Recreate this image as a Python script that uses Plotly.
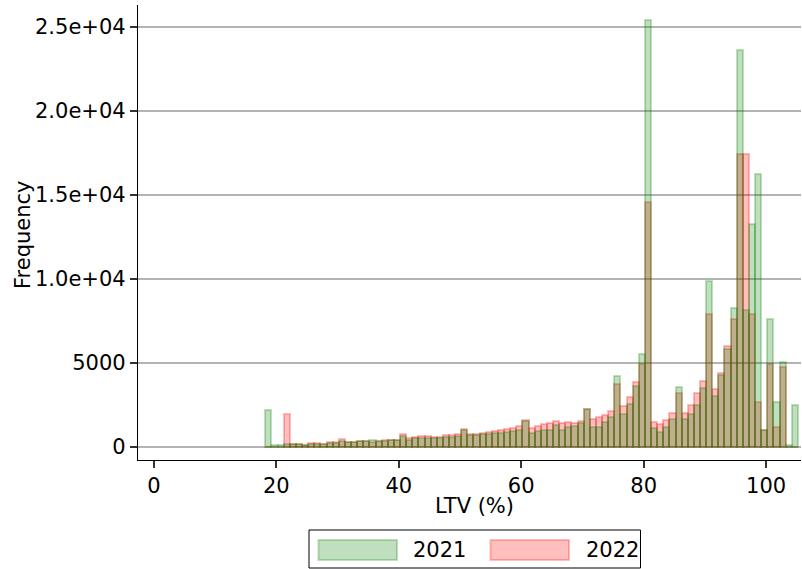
import numpy as np
import plotly.graph_objects as go

# ---- data ----
bin_start = 18.2
bin_width = 1.0

counts_2021 = [
    2220, 140, 140, 150, 170, 170, 90, 200, 200, 180,
    260, 260, 380, 310, 300, 330, 330, 400, 330, 340,
    420, 430, 680, 440, 520, 555, 555, 560, 560, 595,
    595, 655, 1020, 700, 700, 780, 760, 810, 840, 890,
    960, 1010, 1550, 860, 940, 1040, 1000, 1280, 1040, 1170,
    1240, 1400, 2280, 1220, 1220, 1510, 1760, 4200, 1940, 2580,
    3650, 5560, 25440, 1110, 910, 1190, 1640, 3570, 1670, 1940,
    2500, 3530, 9880, 3020, 4290, 5830, 8290, 23650, 8170, 13250,
    16270, 1030, 7620, 2700, 5080, 100, 2500,
]
counts_2022 = [
    0, 0, 0, 1980, 200, 200, 90, 220, 220, 180,
    280, 280, 450, 320, 300, 340, 340, 320, 340, 400,
    440, 440, 770, 510, 575, 635, 635, 615, 615, 695,
    695, 755, 1050, 800, 800, 860, 870, 950, 1000, 1090,
    1150, 1270, 1590, 1110, 1230, 1340, 1400, 1530, 1410, 1470,
    1400, 1530, 2240, 1640, 1760, 1910, 2160, 3770, 2470, 3000,
    3890, 4920, 14560, 1470, 1350, 1590, 2020, 3210, 2020, 2500,
    3210, 3930, 7900, 3450, 4400, 6030, 7620, 17460, 17460, 7900,
    2660, 1030, 4960, 1190, 4760, 0, 0,
]
series_names = ["2021", "2022"]
x_ticks = [0, 20, 40, 60, 80, 100]
y_ticks = [0, 5000, 10000, 15000, 20000, 25000]
y_ticklabels = ["0", "5000", "1.0e+04", "1.5e+04", "2.0e+04", "2.5e+04"]

centers = bin_start + bin_width * (np.arange(len(counts_2021)) + 0.5)

# ---- styles ----
W, H = 802, 569
ML, MR, MT, MB = 138, 1, 5, 109
PW, PH = W - ML - MR, H - MT - MB
FONT = "DejaVu Sans"
FS = 21
green_fill = "rgba(0,128,0,0.25)"
red_fill = "rgba(255,0,0,0.25)"


def px(x):
    return (x - ML) / PW


def py(y):
    return (H - MB - y) / PH


fig = go.Figure()
# 2022 drawn first, 2021 on top (gives the olive overlap of the reference)
fig.add_trace(go.Bar(x=centers, y=counts_2022, width=bin_width, name=series_names[1],
                     marker=dict(color=red_fill, line=dict(color=red_fill, width=2)),
                     showlegend=False))
fig.add_trace(go.Bar(x=centers, y=counts_2021, width=bin_width, name=series_names[0],
                     marker=dict(color=green_fill, line=dict(color=green_fill, width=2)),
                     showlegend=False))

fig.update_layout(
    width=W, height=H, autosize=False,
    margin=dict(l=ML, r=MR, t=MT, b=MB, pad=0),
    barmode="overlay", bargap=0,
    plot_bgcolor="white", paper_bgcolor="white",
    font=dict(family=FONT, size=FS, color="black"),
    xaxis=dict(range=[-2.6, 105.7], tickvals=x_ticks, showgrid=False, zeroline=False,
               showline=True, linecolor="black", linewidth=1.3,
               ticks="outside", ticklen=7, tickwidth=1.5, tickcolor="#333333",
               tickfont=dict(size=FS, family=FONT)),
    yaxis=dict(range=[-774, 26310], tickvals=y_ticks, ticktext=y_ticklabels,
               showgrid=True, gridcolor="#b3b3b3", gridwidth=1.6, zeroline=False,
               showline=True, linecolor="black", linewidth=1.3,
               ticks="outside", ticklen=7, tickwidth=1.5, tickcolor="#333333",
               tickfont=dict(size=FS, family=FONT), layer="above traces"),
)

# axis titles
fig.add_annotation(text="Frequency", xref="paper", yref="paper", x=px(23), y=py(235),
                   textangle=-90, showarrow=False, xanchor="center", yanchor="middle",
                   font=dict(size=FS, family=FONT))
fig.add_annotation(text="LTV (%)", xref="paper", yref="paper", x=px(474.5), y=py(506),
                   showarrow=False, xanchor="center", yanchor="middle",
                   font=dict(size=FS, family=FONT))

# legend (drawn below the axes like the reference)
fig.add_shape(type="rect", xref="paper", yref="paper", x0=px(309), x1=px(640.5),
              y0=py(568), y1=py(530), line=dict(color="black", width=1), fillcolor="white")
legend_items = [(318.5, 397, 411, series_names[0], green_fill),
                (490.5, 569, 583.5, series_names[1], red_fill)]
for x0, x1, tx, label, col in legend_items:
    fig.add_shape(type="rect", xref="paper", yref="paper", x0=px(x0), x1=px(x1),
                  y0=py(560), y1=py(540), fillcolor=col, line=dict(color=col, width=2))
    fig.add_annotation(text=label, xref="paper", yref="paper", x=px(tx), y=py(550),
                       showarrow=False, xanchor="left", yanchor="middle",
                       font=dict(size=FS, family=FONT))

fig.write_html("out.html")
